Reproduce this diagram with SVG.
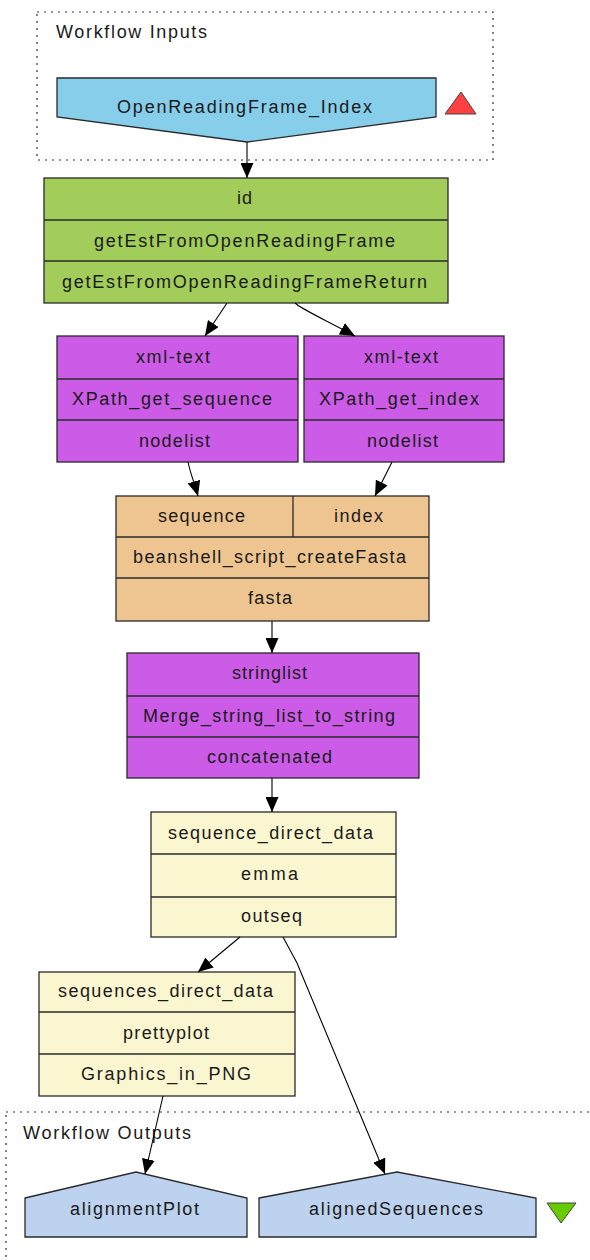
<svg xmlns="http://www.w3.org/2000/svg" width="590" height="1260" viewBox="0 0 590 1260">
<defs>
<marker id="arr" viewBox="0 0 15 13" refX="15" refY="6.5" markerWidth="15" markerHeight="13" markerUnits="userSpaceOnUse" orient="auto">
<path d="M0,0 L15,6.5 L0,13 z" fill="#000"/>
</marker>
<style>
text{font-family:"Liberation Sans",Arial,sans-serif;font-size:18px;fill:#1a1a1a;text-anchor:middle}
.lbl{text-anchor:start}
.cl{fill:none;stroke:#333;stroke-width:1.2;stroke-dasharray:2 5}
.n{stroke:#2a2a2a;stroke-width:1.3}
.d{stroke:#2a2a2a;stroke-width:1.3;fill:none}
.inp{fill:#87ceeb}
.g{fill:#a2cd5a}
.p{fill:#cc5ce8}
.o{fill:#eec591}
.c{fill:#faf6d0}
.out{fill:#bcd2ee}
.e{fill:none;stroke:#000;stroke-width:1.1;marker-end:url(#arr)}
</style>
</defs>
<rect width="590" height="1260" fill="#fff"/>

<g id="inputs">
<rect class="cl" x="37" y="12" width="456" height="148"/>
<text class="lbl" x="56" y="38" textLength="151">Workflow Inputs</text>
<polygon id="OpenReadingFrame_Index" class="n inp" points="57,78 436,78 436,117 247,142 57,117"/>
<text x="244.5" y="113" textLength="255">OpenReadingFrame_Index</text>
<polygon points="461,92 476,114 445,114" fill="#ff4040" stroke="#444" stroke-width="1"/>
</g>

<g id="getEstFromOpenReadingFrame">
<rect class="n g" x="44" y="178" width="404" height="125"/>
<line class="d" x1="44" y1="220" x2="448" y2="220"/>
<line class="d" x1="44" y1="261" x2="448" y2="261"/>
<text x="244.5" y="204" textLength="15">id</text>
<text x="244.5" y="247" textLength="301">getEstFromOpenReadingFrame</text>
<text x="244.5" y="288" textLength="365">getEstFromOpenReadingFrameReturn</text>
</g>

<g id="XPath_get_sequence">
<rect class="n p" x="57" y="336" width="241" height="126"/>
<line class="d" x1="57" y1="379" x2="298" y2="379"/>
<line class="d" x1="57" y1="420" x2="298" y2="420"/>
<text x="173" y="363" textLength="74">xml-text</text>
<text x="172" y="405" textLength="200">XPath_get_sequence</text>
<text x="174.5" y="447" textLength="71">nodelist</text>
</g>

<g id="XPath_get_index">
<rect class="n p" x="304" y="336" width="200" height="126"/>
<line class="d" x1="304" y1="379" x2="504" y2="379"/>
<line class="d" x1="304" y1="420" x2="504" y2="420"/>
<text x="401" y="363" textLength="74">xml-text</text>
<text x="399" y="405" textLength="160">XPath_get_index</text>
<text x="402.5" y="447" textLength="71">nodelist</text>
</g>

<g id="beanshell_script_createFasta">
<rect class="n o" x="116" y="496" width="313" height="125"/>
<line class="d" x1="116" y1="537" x2="429" y2="537"/>
<line class="d" x1="116" y1="578" x2="429" y2="578"/>
<line class="d" x1="293" y1="496" x2="293" y2="537"/>
<text x="201.5" y="522" textLength="87">sequence</text>
<text x="358.5" y="522" textLength="49">index</text>
<text x="269.5" y="563" textLength="273">beanshell_script_createFasta</text>
<text x="270" y="604" textLength="44">fasta</text>
</g>

<g id="Merge_string_list_to_string">
<rect class="n p" x="127" y="653" width="292" height="125"/>
<line class="d" x1="127" y1="696" x2="419" y2="696"/>
<line class="d" x1="127" y1="737" x2="419" y2="737"/>
<text x="269.5" y="679" textLength="75">stringlist</text>
<text x="269" y="722" textLength="252">Merge_string_list_to_string</text>
<text x="269.5" y="763" textLength="125">concatenated</text>
</g>

<g id="emma">
<rect class="n c" x="151" y="812" width="245" height="125"/>
<line class="d" x1="151" y1="854" x2="396" y2="854"/>
<line class="d" x1="151" y1="897" x2="396" y2="897"/>
<text x="270.5" y="839" textLength="205">sequence_direct_data</text>
<text x="269.5" y="880" textLength="57">emma</text>
<text x="271.5" y="922" textLength="61">outseq</text>
</g>

<g id="prettyplot">
<rect class="n c" x="39" y="972" width="256" height="124"/>
<line class="d" x1="39" y1="1012" x2="295" y2="1012"/>
<line class="d" x1="39" y1="1054" x2="295" y2="1054"/>
<text x="165.5" y="997" textLength="215">sequences_direct_data</text>
<text x="166" y="1039" textLength="86">prettyplot</text>
<text x="166" y="1080" textLength="170">Graphics_in_PNG</text>
</g>

<g id="outputs">
<rect class="cl" x="6" y="1112" width="620" height="170"/>
<text class="lbl" x="23" y="1139" textLength="168">Workflow Outputs</text>
<polygon points="547,1203 576,1203 561,1223" fill="#66cc00" stroke="#444" stroke-width="1"/>
</g>

<g id="alignmentPlot">
<polygon class="n out" points="25,1198 136,1172 247,1198 247,1237 25,1237"/>
<text x="134.5" y="1215" textLength="129">alignmentPlot</text>
</g>

<g id="alignedSequences">
<polygon class="n out" points="259,1198 397,1172 536,1198 536,1237 259,1237"/>
<text x="396" y="1215" textLength="174">alignedSequences</text>
</g>

<g id="connectors">
<path class="e" d="M247,142 L247,178"/>
<path class="e" d="M227,303 L205,336"/>
<path class="e" d="M295,303 C301,309 322,318 355,336"/>
<path class="e" d="M188,462 C190,472 194,482 198,496"/>
<path class="e" d="M392,462 L375,496"/>
<path class="e" d="M272,621 L272,653"/>
<path class="e" d="M272,778 L272,812"/>
<path class="e" d="M240,937 L198,972"/>
<path class="e" d="M283,937 L297,963 L385,1174"/>
<path class="e" d="M163,1096 L145,1174"/>
</g>
</svg>
